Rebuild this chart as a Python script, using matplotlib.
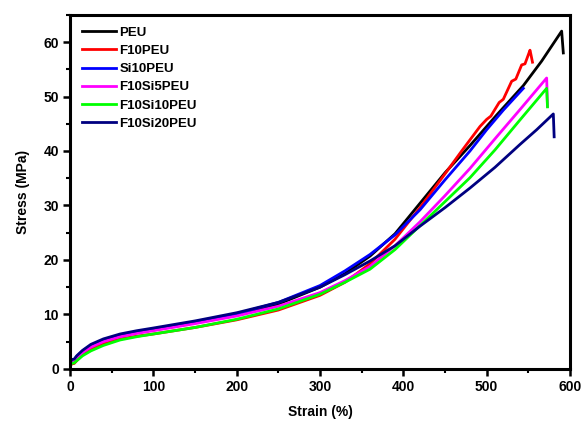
"""
stress-strain curves of PEU films with F / Si modification
"""
import matplotlib
matplotlib.use('Agg')
import matplotlib.pyplot as plt
from matplotlib.ticker import MultipleLocator

plt.rcParams['font.family'] = ['Liberation Sans', 'DejaVu Sans']
plt.rcParams['font.weight'] = 'bold'

# strain (%) / stress (MPa)
peu_strain = [0, 2, 5, 8, 15, 25, 40, 60, 80, 100, 150, 200, 250, 300, 330, 360, 390,
              420, 450, 480, 512, 544, 566, 590, 592]
peu_stress = [0.8, 1.4, 1.5, 2.1, 3.2, 4.2, 5.2, 6.1, 6.7, 7.2, 8.5, 10.0, 11.9, 15.0, 17.5,
              20.7, 24.8, 30.4, 36.0, 41.0, 46.6, 52.0, 56.5, 62.0, 58.0]

f10_strain = [0, 2, 5, 8, 15, 25, 40, 60, 80, 100, 150, 200, 250, 300, 330, 360, 390, 420,
              450, 470, 492, 500, 505, 515, 520, 530, 535, 542, 546, 552, 553, 555]
f10_stress = [0.5, 0.9, 1.0, 1.5, 2.6, 3.6, 4.6, 5.5, 6.0, 6.4, 7.6, 9.0, 10.8, 13.5, 15.9,
              19.3, 23.8, 29.6, 35.8, 40.0, 44.5, 45.8, 46.4, 48.9, 49.5, 52.8, 53.2, 55.8,
              56.0, 58.5, 57.8, 56.3]

si10_strain = [0, 2, 5, 8, 15, 25, 40, 60, 80, 100, 150, 200, 250, 300, 330, 360, 390, 420,
               450, 480, 500, 520, 544]
si10_stress = [1.0, 1.6, 1.7, 2.3, 3.3, 4.3, 5.3, 6.2, 6.8, 7.3, 8.6, 10.1, 12.2, 15.3, 18.0,
               21.0, 24.6, 29.2, 34.7, 40.0, 43.9, 47.5, 51.5]

f10si5_strain = [0, 2, 5, 8, 15, 25, 40, 60, 80, 100, 150, 200, 250, 300, 330, 360, 390, 420,
                 450, 480, 512, 540, 572, 573]
f10si5_stress = [0.8, 1.3, 1.4, 1.9, 3.0, 4.0, 5.0, 5.9, 6.5, 7.0, 8.3, 9.7, 11.5, 14.0, 16.2,
                 18.8, 22.6, 27.0, 31.8, 36.8, 42.6, 47.6, 53.4, 48.2]

f10si10_strain = [0, 2, 5, 8, 15, 25, 40, 60, 80, 100, 150, 200, 250, 300, 330, 360, 390, 420,
                  450, 480, 510, 540, 572, 573]
f10si10_stress = [0.6, 1.0, 1.1, 1.5, 2.4, 3.3, 4.3, 5.3, 5.9, 6.4, 7.6, 9.1, 11.0, 13.7, 15.9,
                  18.3, 21.9, 26.3, 30.7, 35.1, 40.2, 45.7, 51.5, 48.1]

f10si20_strain = [0, 2, 5, 8, 15, 25, 40, 60, 80, 100, 150, 200, 250, 300, 330, 360, 390, 420,
                  450, 480, 510, 540, 560, 580, 581]
f10si20_stress = [1.1, 1.7, 1.8, 2.4, 3.4, 4.5, 5.5, 6.4, 7.0, 7.5, 8.8, 10.3, 12.2, 15.0, 17.3,
                  19.8, 22.6, 26.2, 29.6, 33.2, 37.0, 41.2, 43.9, 46.8, 42.6]

series = [
    ('PEU', peu_strain, peu_stress, 'black'),
    ('F10PEU', f10_strain, f10_stress, '#ff0000'),
    ('Si10PEU', si10_strain, si10_stress, '#0000ff'),
    ('F10Si5PEU', f10si5_strain, f10si5_stress, '#ff00ff'),
    ('F10Si10PEU', f10si10_strain, f10si10_stress, '#00ff00'),
    ('F10Si20PEU', f10si20_strain, f10si20_stress, '#000080'),
]

fig = plt.figure(figsize=(5.84, 4.23), dpi=100)
ax = fig.add_axes([0.12, 0.128, 0.856, 0.837])

for name, x, y, c in series:
    ax.plot(x, y, color=c, lw=2.0, label=name)

ax.set_xlim(0, 600)
ax.set_ylim(0, 65)
ax.xaxis.set_major_locator(MultipleLocator(100))
ax.xaxis.set_minor_locator(MultipleLocator(50))
ax.yaxis.set_major_locator(MultipleLocator(10))
ax.yaxis.set_minor_locator(MultipleLocator(5))
ax.tick_params(which='major', direction='out', length=5, width=1.8, labelsize=10, pad=3)
ax.tick_params(which='minor', direction='out', length=3, width=1.5)
for lab in ax.get_xticklabels() + ax.get_yticklabels():
    lab.set_fontweight('bold')
for sp in ax.spines.values():
    sp.set_linewidth(2.2)

ax.set_xlabel('Strain (%)', fontsize=10, fontweight='bold', labelpad=8)
ax.set_ylabel('Stress (MPa)', fontsize=10, fontweight='bold', labelpad=10)

ax.legend(loc='upper left', frameon=False, handlelength=2.6,
          handletextpad=0.25, labelspacing=0.45, borderaxespad=0.3,
          borderpad=0.6, prop={'weight': 'bold', 'size': 9.5})

fig.savefig('out.png', dpi=100)
